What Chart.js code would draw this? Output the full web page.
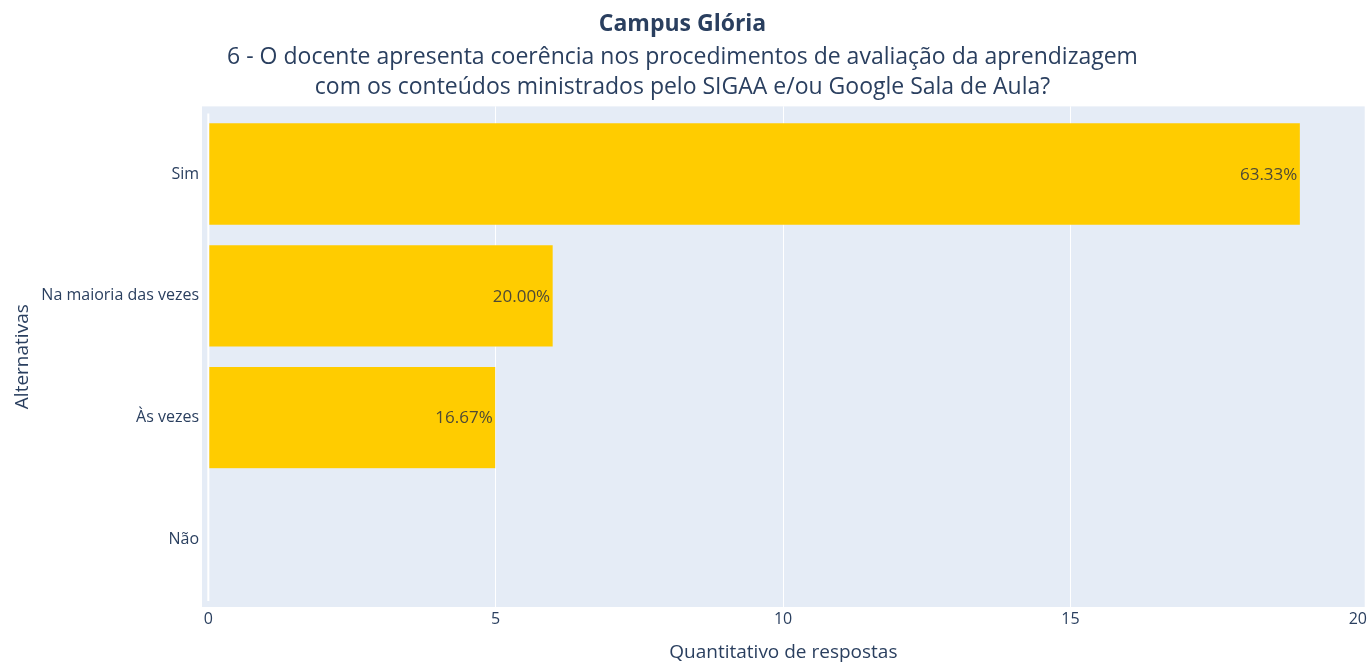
<!DOCTYPE html>
<html>
<head>
<meta charset="utf-8">
<script src="https://cdn.jsdelivr.net/npm/chart.js@4.4.1/dist/chart.umd.min.js"></script>
<style>
  html, body { margin: 0; padding: 0; background: #fff; }
  #wrap { width: 1370px; height: 662px; }
</style>
</head>
<body>
<div id="wrap"><canvas id="grafico"></canvas></div>
<script>
// Dados
const alternativas = ['Sim', 'Na maioria das vezes', 'Às vezes', 'Não'];
const respostas = [19, 6, 5, 0];
const ticksX = [0, 5, 10, 15, 20];

const total = respostas.reduce((a, b) => a + b, 0);
const rotulos = respostas.map(v => (v / total * 100).toFixed(2) + '%');

const COR = {
  texto: '#2a3f5f',
  fundo: '#E5ECF6',
  barra: '#FFCC00',
  rotulo: '#4f4a35'
};
const FONTE = "'Open Sans', sans-serif";

// Fundo da área do gráfico + linha do zero
const fundoPlot = {
  id: 'fundoPlot',
  beforeDraw(chart) {
    const {ctx, chartArea: a} = chart;
    ctx.save();
    ctx.fillStyle = COR.fundo;
    ctx.fillRect(a.left, a.top, a.right - a.left, a.bottom - a.top);
    ctx.restore();
  },
  beforeDatasetsDraw(chart) {
    const {ctx, chartArea: a, scales} = chart;
    const x0 = scales.x.getPixelForValue(0);
    ctx.save();
    ctx.strokeStyle = '#ffffff';
    ctx.lineWidth = 2;
    ctx.beginPath();
    ctx.moveTo(x0, a.top + 7);
    ctx.lineTo(x0, a.bottom - 6);
    ctx.stroke();
    ctx.restore();
  }
};

// Percentuais dentro das barras
const rotulosBarras = {
  id: 'rotulosBarras',
  afterDatasetsDraw(chart) {
    const {ctx} = chart;
    const meta = chart.getDatasetMeta(0);
    ctx.save();
    ctx.font = "17px " + FONTE;
    ctx.fillStyle = COR.rotulo;
    ctx.textAlign = 'right';
    ctx.textBaseline = 'middle';
    meta.data.forEach((bar, i) => {
      if (!respostas[i]) return;
      ctx.fillText(rotulos[i], bar.x - 3, bar.y + 1);
    });
    ctx.restore();
  }
};

new Chart(document.getElementById('grafico'), {
  type: 'bar',
  data: {
    datasets: [{
      data: respostas.map((v, i) => ({x: v, y: i})),
      backgroundColor: COR.barra,
      borderColor: COR.fundo,
      borderWidth: 0.5,
      borderSkipped: false,
      categoryPercentage: 1,
      barPercentage: 0.84
    }]
  },
  options: {
    indexAxis: 'y',
    responsive: true,
    maintainAspectRatio: false,
    animation: false,
    layout: {padding: {left: 0, right: 5, top: 0, bottom: 0}},
    plugins: {
      legend: {display: false},
      tooltip: {enabled: false},
      title: {
        display: true,
        text: 'Campus Glória',
        color: COR.texto,
        font: {family: FONTE, size: 23, weight: 'bold', lineHeight: 1.2},
        padding: {top: 11, bottom: 2}
      },
      subtitle: {
        display: true,
        text: [
          '6 - O docente apresenta coerência nos procedimentos de avaliação da aprendizagem',
          'com os conteúdos ministrados pelo SIGAA e/ou Google Sala de Aula?'
        ],
        color: COR.texto,
        font: {family: FONTE, size: 23, lineHeight: 1.3},
        padding: {top: 2, bottom: 4}
      }
    },
    scales: {
      x: {
        type: 'linear',
        min: -0.11,
        max: 20.12,
        afterBuildTicks: s => { s.ticks = ticksX.map(v => ({value: v})); },
        afterFit: s => { s.height = 55; },
        border: {display: false},
        grid: {
          drawTicks: false,
          lineWidth: 1,
          color: c => (c.tick && (c.tick.value === 0 || c.tick.value === 20)) ? 'rgba(0,0,0,0)' : '#ffffff'
        },
        ticks: {color: COR.texto, font: {family: FONTE, size: 16}, padding: 3},
        title: {
          display: true,
          text: 'Quantitativo de respostas',
          color: COR.texto,
          font: {family: FONTE, size: 19},
          padding: {top: 0, bottom: -2}
        }
      },
      y: {
        type: 'linear',
        reverse: true,
        offset: false,
        min: -0.555,
        max: 3.555,
        afterBuildTicks: s => { s.ticks = alternativas.map((c, i) => ({value: i})); },
        afterFit: s => { s.width = 202; },
        border: {display: false},
        grid: {display: false, drawTicks: false},
        ticks: {
          color: COR.texto,
          font: {family: FONTE, size: 16},
          padding: 3,
          callback: v => alternativas[v]
        },
        title: {
          display: true,
          text: 'Alternativas',
          color: COR.texto,
          font: {family: FONTE, size: 19},
          padding: {top: 11, bottom: 0}
        }
      }
    }
  },
  plugins: [fundoPlot, rotulosBarras]
});
</script>
</body>
</html>
